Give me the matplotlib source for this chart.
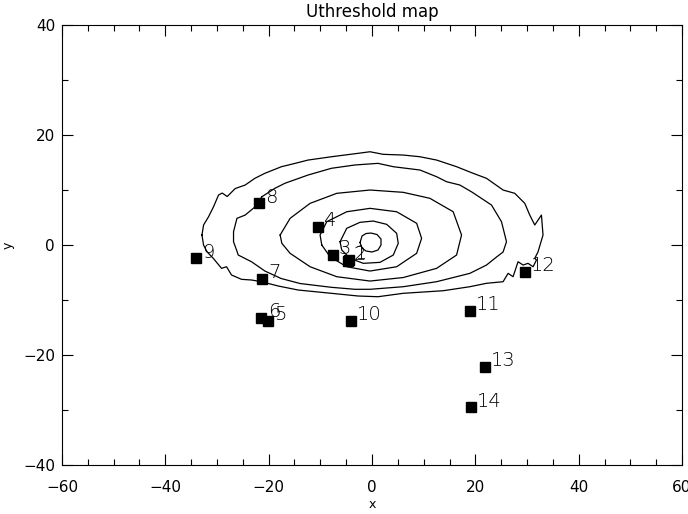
import numpy as np
import matplotlib
matplotlib.use("Agg")
import matplotlib.pyplot as plt
from matplotlib.ticker import MultipleLocator

# station positions and their labels
site_labels = ["1", "2", "3", "4", "5", "6", "7", "8", "9", "10", "11", "12", "13", "14"]
site_x = [-4.5, -4.7, -7.6, -10.5, -20.1, -21.4, -21.3, -21.8, -34.0, -4.1, 18.9, 29.6, 21.8, 19.1]
site_y = [-2.7, -2.9, -1.8, 3.3, -13.8, -13.3, -6.2, 7.6, -2.4, -13.8, -12.0, -4.9, -22.2, -29.5]

# threshold contours (innermost first)
c1_x = [-2.32, -1.93, -1.16, -0.19, 0.97, 1.74, 1.74, 1.16, 0.0, -1.16, -1.93]
c1_y = [0.45, 1.64, 2.09, 2.18, 1.91, 1.09, 0.0, -0.91, -1.27, -1.09, -0.55]

c2_x = [-6.18, -4.89, -2.32, 0.25, 2.84, 4.77, 5.08, 4.12, 1.55, -1.68, -4.25, -5.86]
c2_y = [0.60, 3.04, 4.13, 4.36, 3.76, 2.13, 0.31, -1.82, -3.15, -3.33, -2.42, -0.91]

c3_x = [-9.72, -10.05, -8.75, -4.89, -0.39, 4.77, 8.64, 9.60, 8.64, 4.77, -0.39, -4.89, -8.12]
c3_y = [0.0, 1.82, 4.24, 6.05, 6.67, 6.05, 3.95, 1.22, -1.51, -3.95, -4.73, -3.95, -2.13]

c4_x = [-17.78, -15.85, -11.98, -6.82, -0.39, 6.05, 11.21, 15.71, 17.33, 16.37,
        12.50, 6.05, -0.39, -6.82, -11.98, -15.85, -17.45]
c4_y = [1.82, 4.85, 7.58, 9.40, 10.0, 9.58, 8.49, 6.05, 1.82, -1.82,
        -4.24, -5.91, -6.55, -5.76, -3.95, -1.51, 0.31]

c5_x = [-21.31, -18.80, -16.87, -12.37, -7.86, -3.34, 1.16, 4.12, 9.28, 12.50, 14.43,
        17.00, 19.32, 23.13, 25.06, 26.03, 25.37, 24.10, 22.16, 18.94, 12.50, 6.05,
        -0.39, -3.29, -7.86, -13.91, -17.58, -20.73, -23.32, -25.89, -26.22, -26.80,
        -26.80, -26.14, -24.54, -22.61]
c5_y = [8.78, 10.31, 11.22, 12.73, 13.95, 14.55, 14.85, 14.24, 13.64, 12.42, 11.51,
        10.91, 9.64, 7.27, 4.24, 0.60, -1.27, -2.18, -3.64, -5.15, -6.67, -7.58,
        -8.05, -8.05, -7.69, -7.0, -6.09, -4.73, -3.04, -1.82, -0.91, 0.60,
        2.42, 4.85, 5.45, 6.96]

c6_x = [-32.91, -32.60, -31.63, -30.67, -29.70, -28.99, -28.02, -26.47, -24.54, -22.67,
        -20.73, -17.53, -14.88, -12.37, -7.86, -2.71, -0.39, 2.18, 6.05, 9.28, 12.50,
        16.37, 19.57, 22.16, 25.37, 27.63, 29.57, 30.53, 31.50, 32.79, 33.10, 32.14,
        31.50, 31.83, 31.17, 30.20, 29.24, 28.27, 27.30, 26.34, 25.37, 22.16, 18.94,
        13.78, 6.05, 1.16, -2.71, -7.86, -14.30, -18.16, -21.39, -23.32, -25.25,
        -27.19, -28.15, -29.12, -30.72, -31.94, -32.60]
c6_y = [1.82, 3.64, 5.15, 6.96, 9.09, 9.45, 8.82, 10.27, 10.91, 12.13,
        13.04, 14.24, 14.85, 15.45, 16.05, 16.67, 16.96, 16.49, 16.36, 16.05, 15.45,
        14.24, 13.04, 12.13, 10.0, 9.40, 7.58, 5.45, 3.64, 5.45, 1.82, -1.22,
        -2.42, -2.73, -3.95, -3.33, -3.64, -3.04, -5.76, -5.15, -6.67, -6.96, -7.58,
        -8.31, -8.78, -9.40, -9.27, -8.78, -8.18, -7.45, -6.67, -6.36, -6.24,
        -5.45, -3.95, -4.24, -2.42, -1.22, 0.0]

contours = [(c1_x, c1_y), (c2_x, c2_y), (c3_x, c3_y),
            (c4_x, c4_y), (c5_x, c5_y), (c6_x, c6_y)]

fig = plt.figure(figsize=(6.88, 5.14), dpi=100)
ax = fig.add_axes([0.0901, 0.0953, 0.9012, 0.856])

for cx, cy in contours:
    # close each loop
    ax.plot(cx + cx[:1], cy + cy[:1], color="black", lw=0.9)

ax.plot(site_x, site_y, ls="none", marker="s", ms=7, color="black")
for lab, x, y in zip(site_labels, site_x, site_y):
    ax.annotate(lab, (x, y), xytext=(4.5, 0.5), textcoords="offset points",
                ha="left", va="baseline", fontsize=14, fontweight="light")

ax.set_xlim(-60, 60)
ax.set_ylim(-40, 40)
ax.xaxis.set_major_locator(MultipleLocator(20))
ax.xaxis.set_minor_locator(MultipleLocator(5))
ax.yaxis.set_major_locator(MultipleLocator(20))
ax.yaxis.set_minor_locator(MultipleLocator(10))
ax.tick_params(which="both", direction="in", top=True, right=True, width=0.8)
ax.tick_params(which="major", length=8, labelsize=11)
ax.tick_params(which="minor", length=4)
ax.tick_params(axis="x", which="major", pad=11)
ax.tick_params(axis="y", which="major", pad=5)
for s in ax.spines.values():
    s.set_linewidth(0.8)

ax.set_title("Uthreshold map", fontsize=12, pad=6)
ax.set_xlabel("x", fontsize=9, labelpad=2)
ax.set_ylabel("y", fontsize=9, labelpad=6)

fig.savefig("out.png", dpi=100)
